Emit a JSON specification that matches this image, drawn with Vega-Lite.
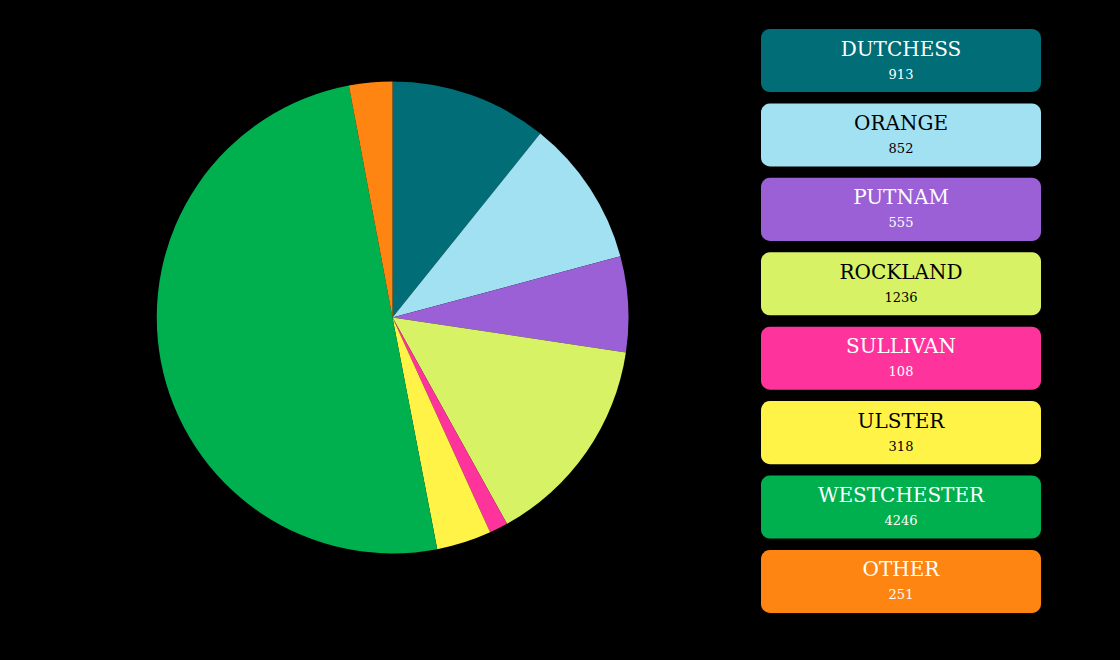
{
  "$schema": "https://vega.github.io/schema/vega-lite/v6.json",
  "background": "black",
  "padding": {"left": 24, "top": 0, "right": 79, "bottom": 18},
  "spacing": 0,
  "config": {"view": {"stroke": null}, "font": "DejaVu Serif"},
  "data": {
    "values": [
      {"county": "DUTCHESS", "count": 913, "ord": 1, "txt": "white"},
      {"county": "ORANGE", "count": 852, "ord": 2, "txt": "black"},
      {"county": "PUTNAM", "count": 555, "ord": 3, "txt": "white"},
      {"county": "ROCKLAND", "count": 1236, "ord": 4, "txt": "black"},
      {"county": "SULLIVAN", "count": 108, "ord": 5, "txt": "white"},
      {"county": "ULSTER", "count": 318, "ord": 6, "txt": "black"},
      {"county": "WESTCHESTER", "count": 4246, "ord": 7, "txt": "white"},
      {"county": "OTHER", "count": 251, "ord": 8, "txt": "white"}
    ]
  },
  "hconcat": [
    {
      "width": 737,
      "height": 635,
      "mark": {"type": "arc", "outerRadius": 236, "strokeWidth": 0},
      "encoding": {
        "theta": {"field": "count", "type": "quantitative", "stack": true},
        "order": {"field": "ord", "type": "quantitative"},
        "color": {
          "field": "county",
          "type": "nominal",
          "legend": null,
          "scale": {
            "domain": ["DUTCHESS", "ORANGE", "PUTNAM", "ROCKLAND", "SULLIVAN", "ULSTER", "WESTCHESTER", "OTHER"],
            "range": ["#006d77", "#a2e1f2", "#9b5fd6", "#d7f264", "#ff339c", "#fff347", "#00b04f", "#ff8513"]
          }
        }
      }
    },
    {
      "width": 280,
      "height": 642,
      "encoding": {
        "y": {
          "field": "county",
          "type": "nominal",
          "sort": {"field": "ord"},
          "axis": null,
          "scale": {"paddingInner": 0.153, "paddingOuter": 0.39}
        }
      },
      "layer": [
        {
          "mark": {"type": "rect", "cornerRadius": 9},
          "encoding": {
            "color": {
              "field": "county",
              "type": "nominal",
              "legend": null,
              "scale": {
                "domain": ["DUTCHESS", "ORANGE", "PUTNAM", "ROCKLAND", "SULLIVAN", "ULSTER", "WESTCHESTER", "OTHER"],
                "range": ["#006d77", "#a2e1f2", "#9b5fd6", "#d7f264", "#ff339c", "#fff347", "#00b04f", "#ff8513"]
              }
            }
          }
        },
        {
          "mark": {"type": "text", "fontSize": 20, "dy": -11, "font": "DejaVu Serif"},
          "encoding": {
            "text": {"field": "county"},
            "color": {"field": "txt", "type": "nominal", "scale": null}
          }
        },
        {
          "mark": {"type": "text", "fontSize": 13, "dy": 14, "font": "DejaVu Serif"},
          "encoding": {
            "text": {"field": "count"},
            "color": {"field": "txt", "type": "nominal", "scale": null}
          }
        }
      ]
    }
  ]
}
